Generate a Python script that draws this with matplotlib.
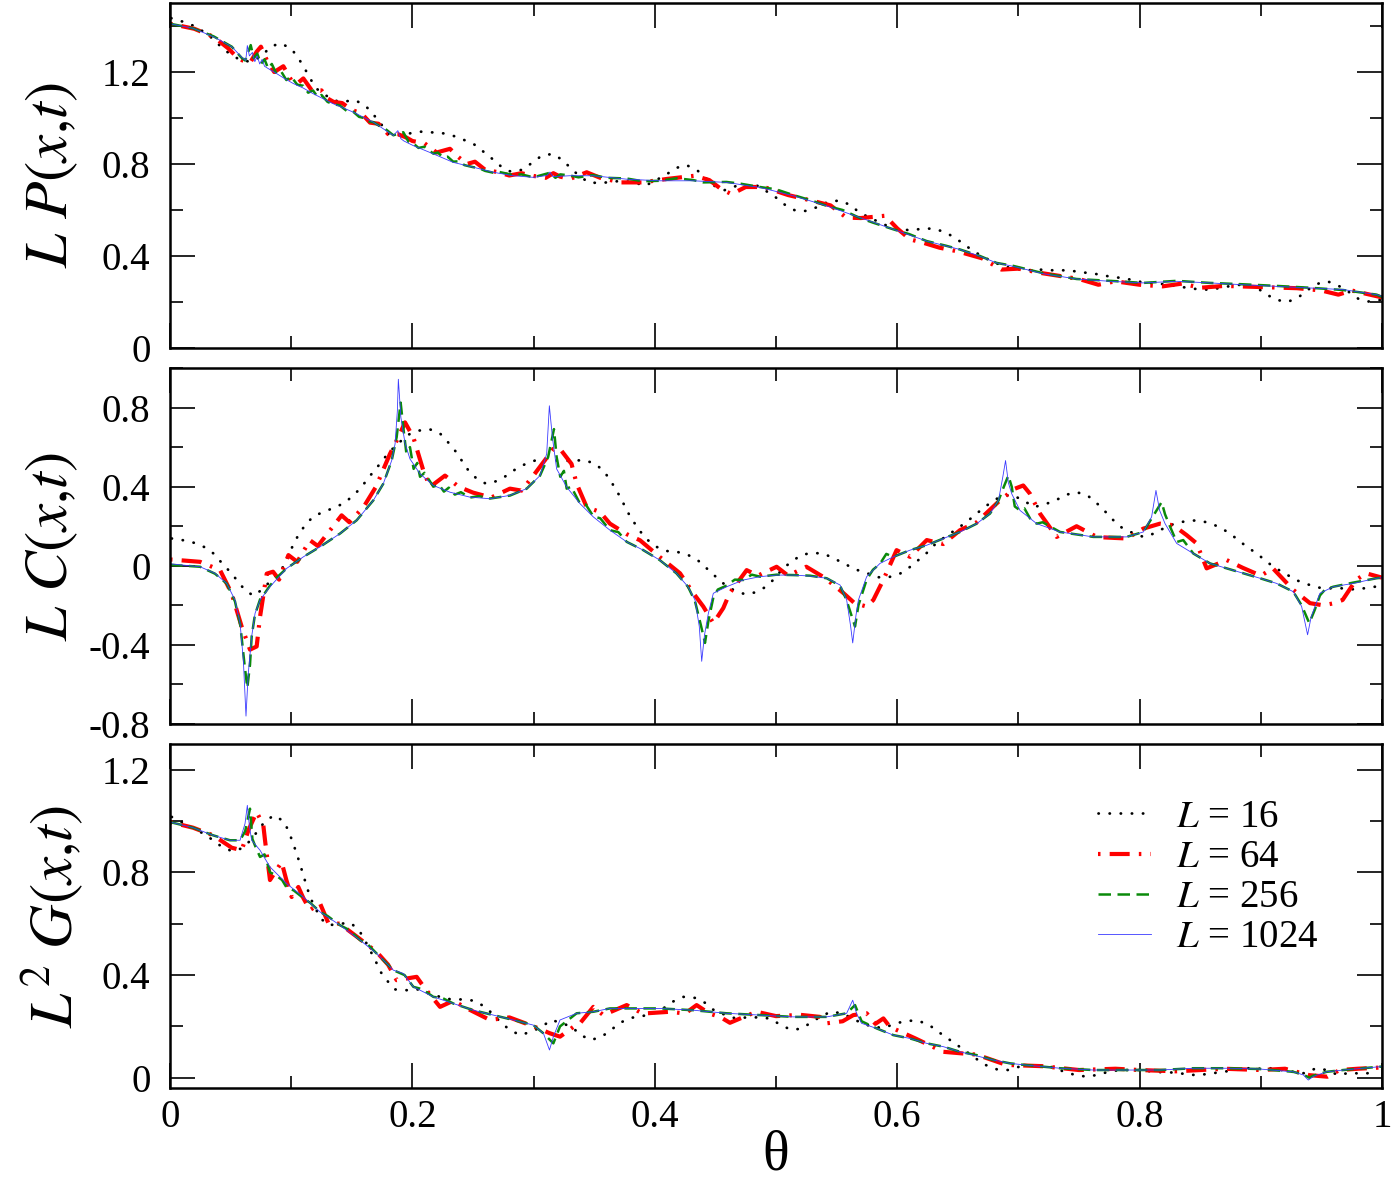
import matplotlib
matplotlib.use("Agg")
import matplotlib.pyplot as plt
from matplotlib.ticker import MultipleLocator, FuncFormatter

plt.rcParams["font.family"] = ["Liberation Serif", "DejaVu Serif"]
plt.rcParams["mathtext.fontset"] = "stix"
plt.rcParams["axes.unicode_minus"] = False

# ---------------- panel 1 : L P(x,t) ----------------
theta_p16 = [0.001, 0.0105, 0.019, 0.0275, 0.035, 0.042, 0.0495, 0.058, 0.066, 0.075, 0.083, 0.091,
             0.0998, 0.1056, 0.1106, 0.1155, 0.12, 0.128, 0.136, 0.1436, 0.153, 0.1615, 0.168, 0.174,
             0.18, 0.19, 0.2055, 0.2145, 0.224, 0.233, 0.242, 0.251, 0.2585, 0.266, 0.273, 0.281,
             0.291, 0.2984, 0.3067, 0.3157, 0.324, 0.3328, 0.345, 0.355, 0.3727, 0.383, 0.392, 0.409,
             0.4167, 0.4257, 0.4345, 0.4414, 0.448, 0.4574, 0.4675, 0.4854, 0.5, 0.508, 0.5165, 0.526,
             0.535, 0.5435, 0.553, 0.5616, 0.5687, 0.58, 0.59, 0.6, 0.611, 0.6207, 0.63, 0.6394,
             0.6477, 0.6554, 0.6628, 0.675, 0.6876, 0.698, 0.708, 0.717, 0.7266, 0.7365, 0.746, 0.756,
             0.765, 0.774, 0.784, 0.793, 0.802, 0.812, 0.821, 0.831, 0.85, 0.859, 0.869, 0.881, 0.896,
             0.904, 0.9125, 0.922, 0.931, 0.938, 0.946, 0.955, 0.964, 0.972, 0.9805, 0.9887, 1.0]
p16 = [1.434, 1.419, 1.402, 1.376, 1.346, 1.31, 1.278, 1.252, 1.245, 1.266, 1.31, 1.325,
       1.303, 1.263, 1.22, 1.174, 1.131, 1.1, 1.075, 1.072, 1.077, 1.052, 1.014, 0.975,
       0.931, 0.925, 0.941, 0.938, 0.935, 0.924, 0.906, 0.885, 0.854, 0.822, 0.79, 0.767,
       0.775, 0.804, 0.836, 0.844, 0.817, 0.77, 0.72, 0.717, 0.727, 0.72, 0.705, 0.752,
       0.781, 0.796, 0.775, 0.742, 0.708, 0.686, 0.705, 0.705, 0.654, 0.62, 0.596, 0.596,
       0.615, 0.637, 0.641, 0.621, 0.589, 0.56, 0.535, 0.52, 0.511, 0.519, 0.519, 0.504,
       0.479, 0.45, 0.421, 0.385, 0.355, 0.344, 0.338, 0.341, 0.338, 0.338, 0.334, 0.327,
       0.321, 0.312, 0.305, 0.297, 0.286, 0.281, 0.277, 0.268, 0.254, 0.254, 0.264, 0.275, 0.265,
       0.235, 0.21, 0.2, 0.22, 0.25, 0.278, 0.29, 0.271, 0.246, 0.214, 0.202, 0.21]

theta_p64 = [0, 0.02, 0.036, 0.048, 0.056, 0.06, 0.066, 0.0715, 0.075, 0.08, 0.086, 0.0935, 0.1,
             0.105, 0.11, 0.117, 0.125, 0.13, 0.135, 0.142, 0.15, 0.158, 0.165, 0.172, 0.18, 0.188,
             0.195, 0.2, 0.21, 0.22, 0.231, 0.238, 0.245, 0.2516, 0.26, 0.27, 0.28, 0.29, 0.3, 0.31,
             0.3163, 0.322, 0.33, 0.3438, 0.355, 0.372, 0.39, 0.41, 0.433, 0.445, 0.455, 0.4634,
             0.475, 0.49, 0.51, 0.53, 0.545, 0.558, 0.57, 0.58, 0.59, 0.6, 0.6106, 0.62, 0.635, 0.65,
             0.67, 0.686, 0.7, 0.72, 0.75, 0.766, 0.78, 0.8, 0.819, 0.835, 0.85, 0.87, 0.9, 0.93,
             0.95, 0.964, 0.975, 1.0]
p64 = [1.41, 1.388, 1.353, 1.303, 1.26, 1.25, 1.24, 1.288, 1.31, 1.25, 1.2, 1.225, 1.165,
       1.15, 1.172, 1.12, 1.12, 1.085, 1.07, 1.065, 1.035, 1.02, 0.98, 0.975, 0.93, 0.93,
       0.915, 0.9, 0.89, 0.85, 0.866, 0.83, 0.8, 0.81, 0.775, 0.765, 0.75, 0.76, 0.748, 0.74,
       0.76, 0.745, 0.735, 0.764, 0.74, 0.72, 0.72, 0.735, 0.749, 0.73, 0.69, 0.669,
       0.7, 0.7, 0.665, 0.64, 0.62, 0.567, 0.565, 0.57, 0.575, 0.52, 0.472, 0.46, 0.436, 0.42,
       0.39, 0.341, 0.345, 0.325, 0.3, 0.275, 0.29, 0.275, 0.268, 0.28, 0.262, 0.27, 0.265, 0.26,
       0.25, 0.232, 0.25, 0.22]

theta_p256 = [0, 0.019, 0.036, 0.051, 0.059, 0.062, 0.0666, 0.069, 0.072, 0.075, 0.078, 0.081, 0.084,
              0.088, 0.092, 0.096, 0.1, 0.105, 0.11, 0.114, 0.118, 0.122, 0.125, 0.13, 0.1347, 0.14,
              0.146, 0.151, 0.156, 0.16, 0.164, 0.1677, 0.172, 0.177, 0.1843, 0.1925, 0.197, 0.2007,
              0.205, 0.21, 0.2173, 0.221, 0.225, 0.229, 0.2337, 0.238, 0.243, 0.2503, 0.255, 0.26,
              0.2668, 0.272, 0.2833, 0.29, 0.2998, 0.3135, 0.318, 0.322, 0.33, 0.337, 0.349, 0.36,
              0.3768, 0.39, 0.404, 0.418, 0.4318, 0.44, 0.459, 0.47, 0.4868, 0.5, 0.5143, 0.53,
              0.5418, 0.555, 0.5693, 0.58, 0.5968, 0.61, 0.6243, 0.64, 0.652, 0.6683, 0.682, 0.6958,
              0.7206, 0.748, 0.7756, 0.803, 0.8306, 0.858, 0.8856, 0.913, 0.9406, 0.968, 0.9956, 1.0]
p256 = [1.41, 1.39, 1.355, 1.31, 1.262, 1.25, 1.317, 1.26, 1.28, 1.235, 1.255, 1.215, 1.235,
        1.19, 1.2, 1.165, 1.18, 1.145, 1.14, 1.11, 1.12, 1.09, 1.1, 1.07, 1.06, 1.055,
        1.03, 1.028, 1.005, 1.0, 0.985, 0.982, 0.968, 0.955, 0.925, 0.938, 0.895, 0.89,
        0.87, 0.875, 0.845, 0.85, 0.83, 0.832, 0.81, 0.812, 0.795, 0.786, 0.782, 0.77,
        0.762, 0.765, 0.752, 0.755, 0.742, 0.762, 0.74, 0.755, 0.75, 0.742, 0.752, 0.74,
        0.737, 0.725, 0.727, 0.738, 0.73, 0.72, 0.722, 0.715, 0.7, 0.69, 0.665, 0.64,
        0.618, 0.6, 0.565, 0.545, 0.516, 0.495, 0.465, 0.445, 0.428, 0.4, 0.37, 0.357,
        0.325, 0.3, 0.292, 0.283, 0.292, 0.283, 0.277, 0.27, 0.262, 0.252, 0.232, 0.222]

theta_p1024 = [0, 0.019, 0.036, 0.051, 0.059, 0.0625, 0.0638, 0.0655, 0.068, 0.07, 0.072, 0.074,
               0.076, 0.078, 0.081, 0.088, 0.095, 0.1017, 0.11, 0.118, 0.1347, 0.151, 0.1677, 0.1843,
               0.188, 0.1905, 0.193, 0.2007, 0.2173, 0.2337, 0.2503, 0.2668, 0.2833, 0.2998, 0.311,
               0.3135, 0.316, 0.33, 0.349, 0.3768, 0.404, 0.4318, 0.459, 0.4868, 0.5143, 0.5418,
               0.5693, 0.5968, 0.6243, 0.652, 0.6683, 0.682, 0.6958, 0.7206, 0.748, 0.7756, 0.803,
               0.8306, 0.858, 0.8856, 0.913, 0.9406, 0.968, 0.9956, 1.0]
p1024 = [1.41, 1.39, 1.353, 1.31, 1.265, 1.25, 1.315, 1.27, 1.285, 1.245, 1.27, 1.235,
         1.255, 1.225, 1.215, 1.193, 1.17, 1.15, 1.13, 1.106, 1.062, 1.026, 0.982, 0.924,
         0.945, 0.91, 0.9, 0.88, 0.844, 0.807, 0.786, 0.764, 0.749, 0.742, 0.75,
         0.765, 0.745, 0.749, 0.749, 0.734, 0.727, 0.727, 0.72, 0.698, 0.662, 0.618,
         0.567, 0.516, 0.465, 0.428, 0.399, 0.37, 0.355, 0.323, 0.3, 0.29, 0.283,
         0.29, 0.283, 0.275, 0.268, 0.261, 0.254, 0.232, 0.225]

# ---------------- panel 2 : L C(x,t) ----------------
theta_c16 = [0.0014, 0.011, 0.02, 0.029, 0.0366, 0.0426, 0.0495, 0.0555, 0.0613, 0.0688, 0.0756, 0.0853,
             0.0935, 0.1018, 0.1059, 0.1114, 0.1183, 0.1265, 0.1348, 0.1438, 0.1513, 0.1581, 0.1636,
             0.17, 0.1755, 0.1821, 0.1892, 0.1967, 0.2049, 0.214, 0.2228, 0.2288, 0.2352, 0.2407,
             0.2462, 0.2531, 0.2607, 0.2695, 0.2778, 0.2855, 0.2943, 0.3026, 0.3122, 0.3218, 0.3323,
             0.341, 0.3501, 0.3575, 0.363, 0.368, 0.3727, 0.3768, 0.3817, 0.3872, 0.3927, 0.4002,
             0.4092, 0.4186, 0.4277, 0.436, 0.4428, 0.4497, 0.4571, 0.4648, 0.4744, 0.4835, 0.4917,
             0.4992, 0.5055, 0.513, 0.5204, 0.5295, 0.5391, 0.5479, 0.557, 0.5652, 0.5743, 0.5831,
             0.5927, 0.6018, 0.6101, 0.6175, 0.6244, 0.6312, 0.6395, 0.6477, 0.6546, 0.6615, 0.6697,
             0.6766, 0.6843, 0.694, 0.704, 0.7129, 0.722, 0.7308, 0.7393, 0.7481, 0.7569, 0.7646,
             0.7715, 0.7784, 0.7853, 0.7943, 0.8031, 0.8119, 0.8218, 0.8301, 0.8388, 0.8479, 0.8567,
             0.8658, 0.8746, 0.8815, 0.8892, 0.8974, 0.9049, 0.9125, 0.9208, 0.929, 0.9378, 0.9469,
             0.9571, 0.9667, 0.9763, 0.9851, 0.9942]
c16 = [0.138, 0.129, 0.116, 0.093, 0.059, 0.015, -0.03, -0.075, -0.119, -0.152, -0.122, -0.063,
       -0.005, 0.108, 0.155, 0.205, 0.25, 0.272, 0.292, 0.317, 0.356, 0.398, 0.445,
       0.49, 0.535, 0.582, 0.624, 0.663, 0.683, 0.691, 0.669, 0.629, 0.582, 0.532,
       0.482, 0.44, 0.415, 0.428, 0.456, 0.49, 0.518, 0.535, 0.535, 0.532, 0.53,
       0.535, 0.518, 0.482, 0.435, 0.385, 0.334, 0.28, 0.23, 0.18, 0.138, 0.099,
       0.075, 0.07, 0.054, 0.025, -0.013, -0.052, -0.092, -0.122, -0.144, -0.134, -0.106,
       -0.063, -0.013, 0.02, 0.054, 0.065, 0.062, 0.037, 0.009, -0.018, -0.035, -0.058,
       -0.058, -0.042, -0.008, 0.029, 0.065, 0.108, 0.146, 0.18, 0.21, 0.243, 0.285,
       0.317, 0.347, 0.36, 0.331, 0.297, 0.311, 0.331, 0.359, 0.372, 0.356, 0.317,
       0.275, 0.23, 0.193, 0.166, 0.146, 0.163, 0.196, 0.216, 0.226, 0.23, 0.218,
       0.196, 0.163, 0.129, 0.093, 0.059, 0.02, -0.013, -0.042, -0.072, -0.092, -0.11,
       -0.114, -0.114, -0.119, -0.114, -0.106]

theta_c64 = [0, 0.0248, 0.0413, 0.0508, 0.0591, 0.066, 0.0715, 0.0743, 0.0798, 0.085, 0.09, 0.0977,
             0.105, 0.1155, 0.122, 0.1416, 0.148, 0.16, 0.17, 0.1815, 0.1884, 0.1939, 0.2008, 0.209,
             0.2145, 0.2269, 0.238, 0.25, 0.265, 0.2805, 0.29, 0.2998, 0.3163, 0.3218, 0.3313, 0.3355,
             0.3438, 0.3548, 0.363, 0.3768, 0.3878, 0.404, 0.4208, 0.4318, 0.44, 0.4483, 0.4565,
             0.4617, 0.4758, 0.485, 0.5005, 0.51, 0.525, 0.54, 0.5558, 0.565, 0.5748, 0.5803, 0.5885,
             0.5995, 0.6106, 0.6244, 0.638, 0.6518, 0.6656, 0.6848, 0.6972, 0.704, 0.7096, 0.7178,
             0.7316, 0.748, 0.765, 0.7893, 0.8031, 0.8168, 0.8278, 0.8388, 0.8471, 0.8553, 0.8718,
             0.885, 0.9, 0.91, 0.9268, 0.9406, 0.9516, 0.9598, 0.9675, 0.9785, 0.9868, 1.0]
c64 = [0.032, 0.02, -0.022, -0.139, -0.307, -0.424, -0.408, -0.257, -0.04, -0.03, -0.07, 0.054,
       0.02, 0.129, 0.1, 0.255, 0.22, 0.3, 0.4, 0.566, 0.649, 0.725, 0.649, 0.482,
       0.398, 0.456, 0.4, 0.37, 0.345, 0.39, 0.38, 0.456, 0.591, 0.591, 0.515, 0.415,
       0.297, 0.272, 0.213, 0.16, 0.129, 0.045, -0.038, -0.139, -0.206, -0.29, -0.214,
       -0.139, -0.022, -0.05, -0.005, -0.05, -0.005, -0.06, -0.139, -0.19, -0.206, -0.173, -0.072,
       0.079, 0.045, 0.13, 0.11, 0.18, 0.22, 0.331, 0.39, 0.406, 0.364, 0.264,
       0.146, 0.2, 0.145, 0.138, 0.188, 0.213, 0.205, 0.155, 0.113, -0.013, 0.029,
       -0.01, -0.05, -0.013, -0.122, -0.189, -0.2, -0.19, -0.173, -0.072, -0.038, -0.06]

theta_c256 = [0, 0.0248, 0.0371, 0.0468, 0.0536, 0.058, 0.0615, 0.0638, 0.066, 0.0674, 0.07, 0.0743,
              0.078, 0.0825, 0.088, 0.0963, 0.11, 0.1238, 0.1403, 0.154, 0.1678, 0.176, 0.1829, 0.187,
              0.1903, 0.1925, 0.195, 0.198, 0.201, 0.204, 0.2063, 0.21, 0.2173, 0.222, 0.226, 0.23,
              0.235, 0.24, 0.2475, 0.255, 0.264, 0.2805, 0.2943, 0.3053, 0.312, 0.3168, 0.319, 0.322,
              0.325, 0.3273, 0.331, 0.3383, 0.343, 0.3493, 0.355, 0.363, 0.37, 0.3768, 0.3905, 0.404,
              0.4178, 0.4274, 0.4332, 0.438, 0.4414, 0.4442, 0.4483, 0.452, 0.4593, 0.466, 0.473,
              0.48, 0.4868, 0.5005, 0.5143, 0.528, 0.5418, 0.5528, 0.558, 0.5652, 0.568, 0.5748,
              0.58, 0.5858, 0.591, 0.5968, 0.6106, 0.6244, 0.6381, 0.6518, 0.6656, 0.6766, 0.6836,
              0.688, 0.6917, 0.6945, 0.697, 0.7013, 0.705, 0.71, 0.7151, 0.72, 0.7343, 0.7618, 0.7893,
              0.8031, 0.81, 0.8182, 0.821, 0.825, 0.8306, 0.836, 0.8443, 0.8581, 0.8718, 0.8856,
              0.8993, 0.913, 0.9268, 0.9337, 0.94, 0.9447, 0.9488, 0.953, 0.9598, 0.9763, 0.9956, 1.0]
c256 = [0.005, -0.005, -0.04, -0.09, -0.18, -0.3, -0.5, -0.617, -0.5, -0.357, -0.25, -0.17,
        -0.14, -0.1, -0.06, -0.013, 0.045, 0.096, 0.163, 0.23, 0.331, 0.415, 0.532, 0.65,
        0.825, 0.7, 0.57, 0.6, 0.49, 0.52, 0.45, 0.47, 0.4, 0.41, 0.375, 0.395,
        0.36, 0.372, 0.345, 0.352, 0.34, 0.355, 0.39, 0.456, 0.55, 0.691, 0.55, 0.45,
        0.48, 0.39, 0.4, 0.314, 0.31, 0.25, 0.24, 0.18, 0.17, 0.121, 0.079, 0.029,
        -0.038, -0.106, -0.18, -0.3, -0.39, -0.28, -0.16, -0.12, -0.1, -0.07, -0.072,
        -0.045, -0.055, -0.045, -0.047, -0.05, -0.063, -0.1, -0.17, -0.307, -0.2, -0.07,
        -0.02, 0.01, 0.06, 0.045, 0.079, 0.104, 0.138, 0.171, 0.213, 0.264, 0.33,
        0.4, 0.456, 0.4, 0.3, 0.28, 0.29, 0.235, 0.213, 0.22, 0.171, 0.146, 0.146,
        0.171, 0.24, 0.322, 0.26, 0.2, 0.12, 0.13, 0.062, 0.012, -0.013, -0.038,
        -0.063, -0.089, -0.131, -0.2, -0.29, -0.22, -0.15, -0.12, -0.106, -0.085, -0.063, -0.06]

theta_c1024 = [0, 0.0248, 0.0371, 0.0468, 0.0536, 0.0578, 0.0605, 0.0627, 0.0645, 0.0674, 0.0702,
               0.0743, 0.0825, 0.0963, 0.11, 0.1238, 0.1403, 0.154, 0.1678, 0.176, 0.1829, 0.1857,
               0.1876, 0.1884, 0.1905, 0.1939, 0.198, 0.2063, 0.2173, 0.231, 0.2475, 0.264, 0.2805,
               0.2943, 0.3053, 0.3108, 0.313, 0.3155, 0.319, 0.3273, 0.3383, 0.3493, 0.363, 0.3768,
               0.3905, 0.404, 0.4178, 0.4274, 0.4332, 0.4367, 0.4387, 0.441, 0.4442, 0.4483, 0.4593,
               0.473, 0.4868, 0.5005, 0.5143, 0.528, 0.5418, 0.5528, 0.5583, 0.5616, 0.5633, 0.566,
               0.568, 0.5748, 0.5858, 0.5968, 0.6106, 0.6244, 0.6381, 0.6518, 0.6656, 0.6766, 0.6836,
               0.6871, 0.6894, 0.6917, 0.6945, 0.7013, 0.7151, 0.7343, 0.7618, 0.7893, 0.8031, 0.8099,
               0.8135, 0.8165, 0.821, 0.8306, 0.8443, 0.8581, 0.8718, 0.8856, 0.8993, 0.913, 0.9268,
               0.9337, 0.9386, 0.9415, 0.9447, 0.9488, 0.9598, 0.9763, 0.9956, 1.0]
c1024 = [0.01, -0.005, -0.038, -0.089, -0.173, -0.29, -0.475, -0.76, -0.55, -0.357, -0.24,
         -0.173, -0.106, -0.013, 0.045, 0.096, 0.163, 0.23, 0.331, 0.415, 0.532, 0.616,
         0.784, 0.943, 0.75, 0.62, 0.54, 0.465, 0.406, 0.372, 0.347, 0.339, 0.356,
         0.39, 0.456, 0.566, 0.809, 0.65, 0.49, 0.398, 0.314, 0.247, 0.18, 0.121,
         0.079, 0.029, -0.038, -0.106, -0.173, -0.307, -0.483, -0.35, -0.24, -0.139, -0.106,
         -0.072, -0.055, -0.047, -0.047, -0.052, -0.063, -0.097, -0.173, -0.307, -0.39, -0.25,
         -0.173, -0.055, 0.012, 0.045, 0.079, 0.104, 0.138, 0.171, 0.213, 0.264, 0.331,
         0.448, 0.532, 0.42, 0.364, 0.28, 0.213, 0.171, 0.146, 0.146, 0.171, 0.247,
         0.381, 0.28, 0.213, 0.113, 0.062, 0.012, -0.013, -0.038, -0.063, -0.089, -0.131,
         -0.206, -0.349, -0.26, -0.206, -0.139, -0.106, -0.089, -0.063, -0.06]

# ---------------- panel 3 : L^2 G(x,t) ----------------
theta_g16 = [0.0014, 0.0096, 0.0184, 0.0267, 0.0344, 0.0421, 0.0508, 0.0591, 0.0666, 0.0723, 0.0784,
             0.0858, 0.0935, 0.0976, 0.1012, 0.1045, 0.1073, 0.11, 0.1128, 0.1155, 0.12, 0.1243,
             0.1312, 0.14, 0.1493, 0.1568, 0.1615, 0.1658, 0.17, 0.1738, 0.1788, 0.1856, 0.1953,
             0.2049, 0.215, 0.225, 0.233, 0.2415, 0.2511, 0.2599, 0.267, 0.2731, 0.2805, 0.2888,
             0.2979, 0.3067, 0.3144, 0.322, 0.3315, 0.3389, 0.3474, 0.3562, 0.3639, 0.3713, 0.3801,
             0.3897, 0.3988, 0.407, 0.4147, 0.4235, 0.4332, 0.4414, 0.4488, 0.458, 0.4667, 0.476,
             0.485, 0.4945, 0.5028, 0.5116, 0.5204, 0.5287, 0.5363, 0.5451, 0.5549, 0.565, 0.5803,
             0.59, 0.599, 0.6086, 0.6174, 0.6265, 0.6339, 0.6417, 0.6496, 0.6573, 0.6648, 0.6733,
             0.6821, 0.6917, 0.7008, 0.711, 0.72, 0.7288, 0.7379, 0.7467, 0.7563, 0.7651, 0.7742,
             0.7833, 0.7921, 0.8017, 0.8113, 0.821, 0.8306, 0.841, 0.8498, 0.8595, 0.8691, 0.8787,
             0.8884, 0.8979, 0.9076, 0.9172, 0.9268, 0.9365, 0.9455, 0.9544, 0.964, 0.9736, 0.9832,
             0.9928]
g16 = [1.016, 0.996, 0.974, 0.953, 0.929, 0.902, 0.883, 0.893, 0.925, 0.961, 0.999,
       1.022, 1.0, 0.964, 0.918, 0.873, 0.832, 0.789, 0.746, 0.704, 0.66, 0.62,
       0.594, 0.6, 0.603, 0.568, 0.529, 0.49, 0.451, 0.412, 0.38, 0.344, 0.341,
       0.344, 0.33, 0.31, 0.305, 0.305, 0.3, 0.276, 0.245, 0.214, 0.186, 0.166,
       0.179, 0.198, 0.225, 0.215, 0.198, 0.166, 0.147, 0.16, 0.186, 0.214, 0.233,
       0.24, 0.251, 0.27, 0.296, 0.315, 0.311, 0.292, 0.263, 0.245, 0.231, 0.235,
       0.235, 0.231, 0.209, 0.188, 0.19, 0.214, 0.237, 0.257, 0.251, 0.225, 0.196,
       0.196, 0.212, 0.222, 0.222, 0.205, 0.179, 0.153, 0.127, 0.101, 0.075, 0.049,
       0.033, 0.03, 0.043, 0.049, 0.047, 0.04, 0.023, 0.011, 0.004, 0.011, 0.023,
       0.03, 0.03, 0.03, 0.023, 0.021, 0.02, 0.011, 0.011, 0.017, 0.023, 0.03,
       0.037, 0.035, 0.037, 0.03, 0.023, 0.017, 0.037, 0.03, 0.01, 0.02, 0.015,
       0.02]

theta_g64 = [0, 0.019, 0.0357, 0.0509, 0.0591, 0.0647, 0.0715, 0.077, 0.0784, 0.0825, 0.0921, 0.096,
             0.1004, 0.1059, 0.11, 0.1155, 0.1238, 0.1306, 0.14, 0.1568, 0.1705, 0.18, 0.187, 0.2035,
             0.21, 0.2228, 0.2338, 0.245, 0.264, 0.28, 0.3, 0.3135, 0.3218, 0.3328, 0.3383, 0.3493,
             0.3575, 0.3768, 0.39, 0.4125, 0.425, 0.4345, 0.445, 0.4538, 0.462, 0.475, 0.484, 0.5,
             0.52, 0.5363, 0.5418, 0.555, 0.5638, 0.5748, 0.582, 0.5886, 0.594, 0.615, 0.638, 0.6656,
             0.69, 0.72, 0.75, 0.78, 0.8, 0.83, 0.85, 0.87, 0.9, 0.92, 0.94, 0.955, 0.965, 0.98, 1.0]
g64 = [0.996, 0.974, 0.944, 0.896, 0.886, 0.964, 1.035, 0.983, 0.925, 0.77, 0.84, 0.77,
       0.704, 0.743, 0.7, 0.653, 0.679, 0.603, 0.6, 0.54, 0.49, 0.44, 0.38, 0.393,
       0.35, 0.276, 0.3, 0.27, 0.225, 0.235, 0.2, 0.173, 0.16, 0.198, 0.212, 0.276,
       0.244, 0.283, 0.25, 0.257, 0.25, 0.283, 0.25, 0.237, 0.214, 0.24, 0.257, 0.24,
       0.245, 0.237, 0.212, 0.22, 0.244, 0.251, 0.21, 0.231, 0.198, 0.153, 0.101, 0.09,
       0.05, 0.045, 0.03, 0.035, 0.03, 0.025, 0.03, 0.035, 0.03, 0.035, 0.01, 0.004, 0.03, 0.035, 0.04]

theta_g256 = [0, 0.019, 0.0357, 0.0495, 0.0578, 0.062, 0.066, 0.068, 0.0705, 0.0743, 0.078, 0.0825,
              0.087, 0.0925, 0.0963, 0.102, 0.11, 0.116, 0.1238, 0.13, 0.1403, 0.148, 0.1568, 0.163,
              0.1705, 0.1843, 0.1935, 0.2008, 0.208, 0.2173, 0.225, 0.2338, 0.2503, 0.2668, 0.2833,
              0.2998, 0.3081, 0.3163, 0.3218, 0.3355, 0.3493, 0.363, 0.3768, 0.404, 0.4318, 0.4593,
              0.4868, 0.5143, 0.5418, 0.5583, 0.5652, 0.5706, 0.5831, 0.5968, 0.6106, 0.6243, 0.6381,
              0.6518, 0.6656, 0.6793, 0.6931, 0.7068, 0.7343, 0.7618, 0.7893, 0.8168, 0.8443, 0.8718,
              0.899, 0.9268, 0.9351, 0.94, 0.9433, 0.9543, 0.968, 0.9983, 1.0]
g256 = [0.996, 0.974, 0.944, 0.925, 0.925, 0.96, 1.048, 0.93, 0.9, 0.86, 0.87, 0.8,
        0.79, 0.77, 0.74, 0.73, 0.7, 0.68, 0.646, 0.63, 0.594, 0.575, 0.536, 0.52,
        0.484, 0.419, 0.4, 0.354, 0.345, 0.315, 0.31, 0.289, 0.263, 0.244, 0.225,
        0.205, 0.173, 0.134, 0.2, 0.251, 0.257, 0.27, 0.27, 0.27, 0.263, 0.251,
        0.244, 0.237, 0.237, 0.251, 0.283, 0.22, 0.192, 0.166, 0.153, 0.134, 0.121,
        0.101, 0.088, 0.069, 0.056, 0.049, 0.037, 0.03, 0.03, 0.03, 0.037, 0.037,
        0.034, 0.023, 0.012, 0.0, 0.008, 0.023, 0.03, 0.043, 0.043]

theta_g1024 = [0, 0.019, 0.0357, 0.0495, 0.0578, 0.0619, 0.0638, 0.0655, 0.0674, 0.0743, 0.0825,
               0.0963, 0.11, 0.1238, 0.1403, 0.1568, 0.1705, 0.1843, 0.1925, 0.2008, 0.2173, 0.2338,
               0.2503, 0.2668, 0.2833, 0.2998, 0.3081, 0.3131, 0.3163, 0.3218, 0.3355, 0.3493, 0.363,
               0.3768, 0.404, 0.4318, 0.4593, 0.4868, 0.5143, 0.5418, 0.5583, 0.5633, 0.5665, 0.5706,
               0.5831, 0.5968, 0.6106, 0.6243, 0.6381, 0.6518, 0.6656, 0.6793, 0.6931, 0.7068, 0.7343,
               0.7618, 0.7893, 0.8168, 0.8443, 0.8718, 0.899, 0.9268, 0.9351, 0.9392, 0.9433, 0.9543,
               0.968, 0.9983, 1.0]
g1024 = [0.996, 0.974, 0.944, 0.925, 0.925, 0.99, 1.061, 0.98, 0.925, 0.886, 0.821,
         0.756, 0.704, 0.646, 0.594, 0.536, 0.484, 0.419, 0.406, 0.354, 0.315, 0.289,
         0.263, 0.244, 0.225, 0.205, 0.173, 0.108, 0.16, 0.225, 0.251, 0.257, 0.27,
         0.27, 0.27, 0.263, 0.251, 0.244, 0.237, 0.237, 0.251, 0.302, 0.25, 0.212,
         0.192, 0.166, 0.153, 0.134, 0.121, 0.101, 0.085, 0.069, 0.056, 0.049, 0.037,
         0.03, 0.03, 0.03, 0.037, 0.037, 0.034, 0.023, 0.011, -0.009, 0.005, 0.023,
         0.03, 0.043, 0.043]

sizes = ["16", "64", "256", "1024"]

# line style for each L, in the order 16, 64, 256, 1024
styles = [
    dict(color="black", lw=2.0, ls=(0, (0.1, 3.9)), dash_capstyle="round"),
    dict(color="red", lw=3.0, ls=(0, (0.6, 2.2, 4.8, 2.2))),
    dict(color="#0a8a0a", lw=1.8, ls=(0, (5, 2.6))),
    dict(color="#3a3aff", lw=0.6, ls="-"),
]

panels = [
    ([(theta_p16, p16), (theta_p64, p64), (theta_p256, p256), (theta_p1024, p1024)],
     (0, 1.5), r"$L\ P(x{,}t)$"),
    ([(theta_c16, c16), (theta_c64, c64), (theta_c256, c256), (theta_c1024, c1024)],
     (-0.8, 1.0), r"$L\ C(x{,}t)$"),
    ([(theta_g16, g16), (theta_g64, g64), (theta_g256, g256), (theta_g1024, g1024)],
     (-0.04, 1.3), r"$L^2\ G(x{,}t)$"),
]

fig = plt.figure(figsize=(13.92, 11.84), dpi=100)
W, H = 1392, 1184
# axes boxes in pixels: (top, bottom)
boxes = [(3, 348), (368, 724), (744, 1088)]
left_px, right_px = 170, 1382

fmt = FuncFormatter(lambda v, pos: "%g" % round(v, 3))

for i, ((series, ylim, ylab), (top, bot)) in enumerate(zip(panels, boxes)):
    ax = fig.add_axes([left_px / W, 1 - bot / H, (right_px - left_px) / W, (bot - top) / H])
    for (x, y), st, L in zip(series, styles, sizes):
        ax.plot(x, y, label=r"$L$ = %s" % L, **st)
    ax.set_xlim(0, 1)
    ax.set_ylim(*ylim)
    ax.xaxis.set_major_locator(MultipleLocator(0.2))
    ax.xaxis.set_minor_locator(MultipleLocator(0.1))
    ax.yaxis.set_major_locator(MultipleLocator(0.4))
    ax.yaxis.set_minor_locator(MultipleLocator(0.2))
    ax.xaxis.set_major_formatter(fmt)
    ax.yaxis.set_major_formatter(fmt)
    ax.tick_params(which="both", direction="in", top=True, right=True, width=1.2,
                   labelsize=28)
    ax.tick_params(which="major", length=18)
    ax.tick_params(which="minor", length=9)
    ax.tick_params(axis="y", pad=14)
    ax.tick_params(axis="x", pad=8)
    for s in ax.spines.values():
        s.set_linewidth(1.8)
    if i < 2:
        ax.tick_params(labelbottom=False)
    fig.text(52 / W, 1 - (top + bot) / 2 / H, ylab, rotation=90, ha="center", va="center",
             fontsize=44)
    if i == 2:
        ax.legend(loc="upper left", bbox_to_anchor=(1098 / W, 1 - 799 / H),
                  bbox_transform=fig.transFigure, frameon=False, fontsize=28,
                  handlelength=1.35, handletextpad=0.65, labelspacing=0.08,
                  borderpad=0, borderaxespad=0)

fig.text(776 / W, 1 - 1155 / H, "θ", ha="center", va="center", fontsize=40)

fig.savefig("out.png", dpi=100)
